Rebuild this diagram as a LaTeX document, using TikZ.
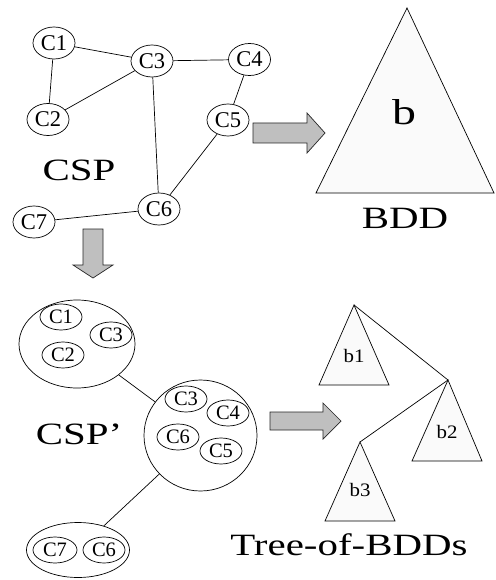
\documentclass[tikz,border=0pt]{standalone}
\usepackage{fontspec}
\setmainfont{Liberation Serif}
\usepackage{graphicx}
\usetikzlibrary{shapes.geometric}
\newcommand{\wide}[1]{\scalebox{1.32}[1]{#1}}
\tikzset{
  cnode/.style={ellipse, draw, line width=0.7pt, minimum width=42pt, minimum height=32pt, inner sep=0pt, font=\fontsize{22.5}{22.5}\selectfont},
  inode/.style={cnode, minimum width=42pt, minimum height=26pt, font=\fontsize{20.5}{20.5}\selectfont},
  cluster/.style={ellipse, draw, line width=0.7pt, inner sep=0pt},
  bigtext/.style={inner sep=0pt, font=\fontsize{31}{31}\selectfont},
  blabel/.style={inner sep=0pt, font=\fontsize{19}{19}\selectfont},
  link/.style={line width=0.7pt},
  blockarrow/.style={draw=black!85, fill=black!25, line width=0.7pt, line join=miter},
  tri/.style={draw, fill=black!2, line width=0.7pt, line join=miter}
}
\begin{document}
\begin{tikzpicture}[x=1pt,y=-1pt]
\useasboundingbox (0,0) rectangle (495,580);

% ---- top CSP graph
\node[cnode] (c1) at (54,43) {C1};
\node[cnode] (c2) at (48,119.5) {C2};
\node[cnode] (c3) at (152,61) {C3};
\node[cnode] (c4) at (249.5,59.5) {C4};
\node[cnode] (c5) at (228,120) {C5};
\node[cnode] (c6) at (159,209) {C6};
\node[cnode] (c7) at (34,222) {C7};
\draw[link] (c1) -- (c3);
\draw[link] (c1) -- (c2);
\draw[link] (c2) -- (c3);
\draw[link] (c3) -- (c4);
\draw[link] (c3) -- (c6);
\draw[link] (c4) -- (c5);
\draw[link] (c5) -- (c6);
\draw[link] (c6) -- (c7);
\node[bigtext] (csp) at (79,170) {\wide{CSP}};

% ---- big BDD triangle
\draw[tri] (407,8) coordinate (bt) -- (316,193) -- (494,193) -- cycle;
\node[inner sep=0pt, font=\fontsize{36}{36}\selectfont] (blab) at (404,112.5) {\scalebox{1.33}[1]{b}};
\node[bigtext] (bdd) at (405,218) {\wide{BDD}};

% ---- block arrows
\draw[blockarrow] (253,123) -- (307,123) -- (307,113) -- (325,133) -- (307,153) -- (307,143) -- (253,143) -- cycle;
\draw[blockarrow] (83,229) -- (103,229) -- (103,265) -- (113,265) -- (93,278) -- (73,265) -- (83,265) -- cycle;
\draw[blockarrow] (270,412) -- (323,412) -- (323,403) -- (341,421) -- (323,439) -- (323,430) -- (270,430) -- cycle;

% ---- CSP' clusters
\node[cluster, minimum width=116pt, minimum height=88pt] (k1) at (77,344) {};
\node[inode] (k1a) at (61,317) {C1};
\node[inode] (k1b) at (111,335) {C3};
\node[inode] (k1c) at (63,355) {C2};

\node[cluster, minimum width=113pt, minimum height=111pt] (k2) at (200.5,435.5) {};
\node[inode] (k2a) at (186,399) {C3};
\node[inode] (k2b) at (228,413) {C4};
\node[inode] (k2c) at (178,437) {C6};
\node[inode] (k2d) at (221,451) {C5};

\node[cluster, minimum width=103pt, minimum height=55pt] (k3) at (78,550) {};
\node[inode, minimum width=44pt] (k3a) at (55,550) {C7};
\node[inode] (k3b) at (104,550) {C6};

\draw[link] (k1) -- (k2);
\draw[link] (k2) -- (k3);
\node[bigtext] (cspp) at (79,434) {\wide{CSP’}};

% ---- tree of BDDs
\draw[tri] (354,305) coordinate (t1) -- (319,385) -- (389,385) -- cycle;
\draw[tri] (448,380) coordinate (t2) -- (412,461) -- (482,461) -- cycle;
\draw[tri] (360,442) coordinate (t3) -- (325,521) -- (395,521) -- cycle;
\draw[link] (t1) -- (t2) -- (t3);
\node[blabel] (b1) at (354,356) {\scalebox{1.1}[1]{b1}};
\node[blabel] (b2) at (447,432) {\scalebox{1.1}[1]{b2}};
\node[blabel] (b3) at (360,490) {\scalebox{1.1}[1]{b3}};
\node[bigtext] (tob) at (349,545) {\wide{Tree-of-BDDs}};
\end{tikzpicture}
\end{document}
